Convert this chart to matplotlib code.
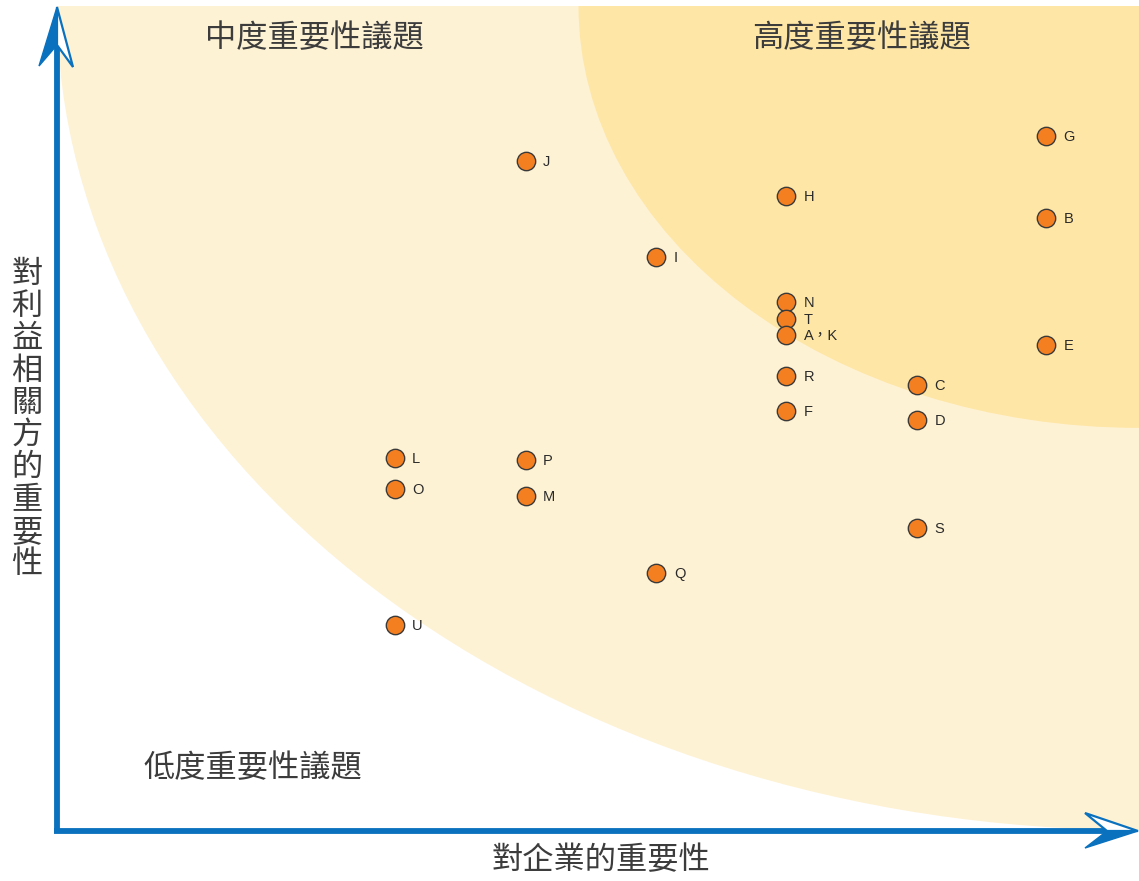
import matplotlib
matplotlib.use("Agg")
import matplotlib.pyplot as plt
from matplotlib.patches import Ellipse, Polygon

plt.rcParams['font.family'] = ['Noto Sans CJK TC', 'DejaVu Sans']

# issue scores (0-100 on both axes)
labels = ['G', 'B', 'E', 'H', 'J', 'I', 'N', 'T', 'A，K', 'R', 'F',
          'C', 'D', 'S', 'L', 'O', 'P', 'M', 'Q', 'U']
x_company = [91.4, 91.4, 91.4, 67.4, 43.3, 55.4, 67.4, 67.4, 67.4, 67.4, 67.4,
             79.5, 79.5, 79.5, 31.2, 31.2, 43.3, 43.3, 55.4, 31.2]
y_stake = [84.2, 74.3, 58.9, 76.9, 81.2, 69.5, 64.1, 62.0, 60.1, 55.1, 50.8,
           54.0, 49.8, 36.7, 45.1, 41.4, 44.9, 40.5, 31.2, 24.9]

# zones as (x radius, y radius) measured from the top-right corner
zone_radius = [(100, 100), (51.8, 51.2)]   # medium / high
zone_colors = ['#fef2d4', '#fee6a6']

blue = '#0a71be'
W, H = 1139, 881

fig = plt.figure(figsize=(W / 100, H / 100), dpi=100)

# main data axes: from the origin (57, 830) to the top-right corner (1139, 6)
ax = fig.add_axes([57 / W, (H - 830) / H, 1082 / W, 824 / H])
ax.set_xlim(0, 100)
ax.set_ylim(0, 100)
ax.axis('off')

for (rx, ry), c in zip(zone_radius, zone_colors):
    ax.add_patch(Ellipse((100, 100), 2 * rx, 2 * ry, facecolor=c, edgecolor='none', zorder=1))

ax.scatter(x_company, y_stake, s=175, color='#f47f21', edgecolors='#3a3a3a',
           linewidths=1.0, zorder=3, clip_on=False)
for lab, x, y in zip(labels, x_company, y_stake):
    ax.annotate(lab, (x, y), xytext=(12.5, -0.7), textcoords='offset points',
                ha='left', va='center', fontsize=10.5, color='#2a2a2a',
                family=['Liberation Sans', 'Noto Sans CJK TC'], zorder=4)

# overlay in pixel coordinates for axis arrows and titles
ov = fig.add_axes([0, 0, 1, 1])
ov.set_xlim(0, W)
ov.set_ylim(H, 0)
ov.axis('off')
ov.patch.set_alpha(0)

ov.plot([57, 57], [833, 40], color=blue, lw=4.2, solid_capstyle='butt', zorder=5)
ov.plot([54, 1110], [830.5, 830.5], color=blue, lw=4.2, solid_capstyle='butt', zorder=5)

# y arrow head: left half filled, right half outlined
ov.add_patch(Polygon([(57, 7), (39, 66), (57, 45)], closed=True, facecolor=blue,
                     edgecolor=blue, lw=1, zorder=6))
ov.add_patch(Polygon([(57, 7), (73, 67), (57, 45)], closed=True, facecolor='white',
                     edgecolor=blue, lw=1.6, joinstyle='miter', zorder=6))
# x arrow head: lower half filled, upper half outlined
ov.add_patch(Polygon([(1138, 831), (1085, 848), (1107, 831)], closed=True, facecolor=blue,
                     edgecolor=blue, lw=1, zorder=6))
ov.add_patch(Polygon([(1138, 831), (1085, 813), (1107, 831)], closed=True, facecolor='white',
                     edgecolor=blue, lw=1.6, joinstyle='miter', zorder=6))

tcol = '#3c3c3c'
kw = dict(ha='center', va='center', fontsize=22.5, color=tcol, fontweight='light', zorder=7)
ov.text(314, 38, '中度重要性議題', **kw)
ov.text(862, 38, '高度重要性議題', **kw)
ov.text(253, 768, '低度重要性議題', **kw)
ov.text(601, 860, '對企業的重要性', **kw)
ov.text(27, 419, '\n'.join('對利益相關方的重要性'), linespacing=1.01, **kw)

fig.savefig('out.png', dpi=100)
